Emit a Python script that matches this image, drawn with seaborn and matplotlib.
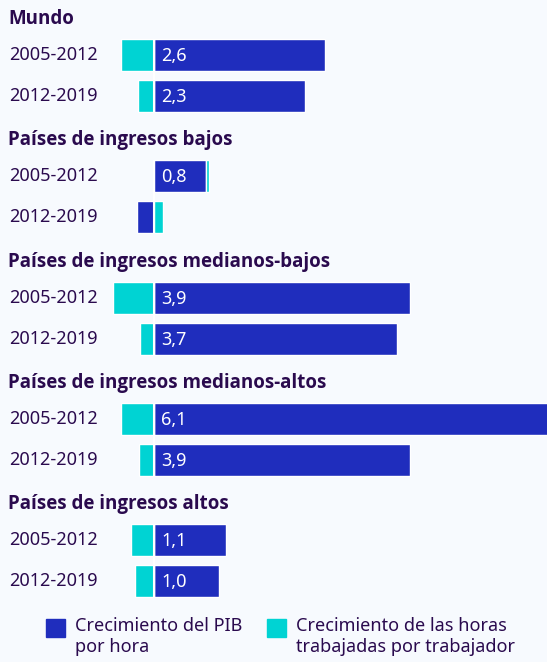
import numpy as np
import pandas as pd
import matplotlib
matplotlib.use("Agg")
import matplotlib.pyplot as plt
from matplotlib.patches import Rectangle
import seaborn as sns

groups = ["Mundo", "Países de ingresos bajos", "Países de ingresos medianos-bajos",
          "Países de ingresos medianos-altos", "Países de ingresos altos"]
periods = ["2005-2012", "2012-2019"]
# growth of GDP per hour, growth of hours worked per worker (per group, per period)
pib = [2.6, 2.3, 0.8, -0.25, 3.9, 3.7, 6.1, 3.9, 1.1, 1.0]
horas = [-0.49, -0.24, 0.05, 0.14, -0.61, -0.21, -0.5, -0.22, -0.34, -0.28]
legend_labels = ["Crecimiento del PIB\npor hora", "Crecimiento de las horas\ntrabajadas por trabajador"]

BLUE = "#1f2dbd"
CYAN = "#00d3d3"
BG = "#f7fafe"
INK = "#2a0a4e"

sns.set_theme(style="white")
plt.rcParams["font.family"] = ["Noto Sans", "DejaVu Sans"]

W, H = 547, 662
fig = plt.figure(figsize=(W / 100, H / 100), dpi=100, facecolor=BG)
ax = fig.add_axes([0, 0, 1, 1], facecolor=BG)

px_per_unit = 65.8
zero_px = 153.5
ax.set_xlim(-zero_px / px_per_unit, (W - zero_px) / px_per_unit)
ax.set_ylim(H, 0)
ax.axis("off")

df = pd.DataFrame({
    "group": np.repeat(groups, 2),
    "period": periods * len(groups),
    "pib": pib,
    "horas": horas,
})
df["gi"] = np.repeat(np.arange(len(groups)), 2)
df["ri"] = [0, 1] * len(groups)
df["y"] = 55 + 121.3 * df["gi"] + 41 * df["ri"]
df["left_h"] = np.where(np.sign(df["horas"]) == np.sign(df["pib"]), df["pib"], 0)

ax.barh(df["y"], df["pib"], height=32, color=BLUE, zorder=2)
ax.barh(df["y"], df["horas"], left=df["left_h"], height=32, color=CYAN, zorder=2)

FS = 13
x_text = -zero_px / px_per_unit + 9 / px_per_unit
for _, r in df.iterrows():
    ax.text(x_text, r["y"], r["period"], ha="left", va="center", fontsize=FS, color=INK)
    if r["pib"] > 0:
        ax.text(0.12, r["y"] + 1, f"{r['pib']:.1f}".replace(".", ","),
                ha="left", va="center", fontsize=FS, color="white", zorder=4)

for gi, g in enumerate(groups):
    y0 = 55 + 121.3 * gi
    ax.vlines(0, y0 - 16, y0 + 41 + 16, color="white", lw=1.5, zorder=3)
    ax.text(x_text - 1 / px_per_unit, y0 - 36, g, ha="left", va="center", fontsize=13.5,
            fontweight="bold", family=["Open Sans", "DejaVu Sans"], color=INK)

# legend
for x0, col, lab in [(46, BLUE, legend_labels[0]), (267, CYAN, legend_labels[1])]:
    fig.add_artist(Rectangle((x0 / W, 1 - 637 / H), 19 / W, 18 / H,
                             transform=fig.transFigure, color=col))
    fig.text((x0 + 29) / W, 1 - 617 / H, lab, ha="left", va="top",
             fontsize=FS, color=INK, linespacing=1.2)

fig.savefig("out.png", dpi=100, facecolor=BG)
